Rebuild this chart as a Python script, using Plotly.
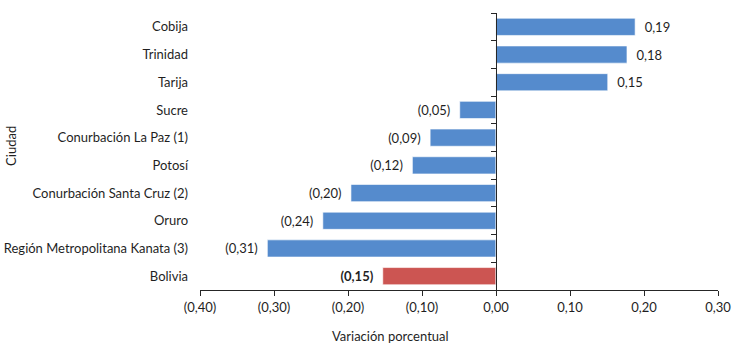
import plotly.graph_objects as go

ciudades = ["Cobija", "Trinidad", "Tarija", "Sucre", "Conurbación La Paz (1)", "Potosí",
            "Conurbación Santa Cruz (2)", "Oruro", "Región Metropolitana Kanata (3)", "Bolivia"]
valores = [0.188, 0.177, 0.151, -0.049, -0.089, -0.113, -0.196, -0.234, -0.309, -0.153]
etiquetas = ["0,19", "0,18", "0,15", "(0,05)", "(0,09)", "(0,12)", "(0,20)", "(0,24)", "(0,31)", "<b>(0,15)</b>"]
colores = ["#558BCD"] * 9 + ["#CC5552"]
x_ticks = [-0.4, -0.3, -0.2, -0.1, 0.0, 0.1, 0.2, 0.3]
x_ticktext = ["(0,40)", "(0,30)", "(0,20)", "(0,10)", "0,00", "0,10", "0,20", "0,30"]
x_range = [-0.4, 0.3]

font = dict(family="Lato, Liberation Sans, sans-serif", size=13, color="#1f1f1f")

# pad labels away from bar ends
textos = [("\u2002" + t) if v >= 0 else (t + "\u2002") for t, v in zip(etiquetas, valores)]

fig = go.Figure()
fig.add_trace(go.Bar(
    x=valores, y=ciudades, orientation="h",
    marker=dict(color=colores, line=dict(color="rgba(255,255,255,0.6)", width=1)),
    text=textos, textposition="outside", textfont=font, cliponaxis=False,
    hoverinfo="skip", yaxis="y",
))
fig.add_trace(go.Bar(
    x=[0] * len(ciudades), y=ciudades, orientation="h",
    marker=dict(color="rgba(0,0,0,0)"), hoverinfo="skip", yaxis="y2", showlegend=False,
))

zero_pos = (0 - x_range[0]) / (x_range[1] - x_range[0])

fig.update_layout(
    width=740, height=350,
    margin=dict(l=200, r=22, t=13, b=60),
    plot_bgcolor="white", paper_bgcolor="white",
    showlegend=False, bargap=0.38, font=font,
    xaxis=dict(range=x_range, tickvals=x_ticks, ticktext=x_ticktext, showgrid=False,
               zeroline=False, showline=True, linecolor="#262626", linewidth=1,
               ticks="outside", ticklen=5, tickcolor="#262626", tickfont=font,
               automargin=False),
    yaxis=dict(autorange="reversed", showgrid=False, zeroline=False, showline=False,
               ticks="", ticklabelstandoff=11, tickfont=font, automargin=False),
    yaxis2=dict(autorange="reversed", overlaying="y", anchor="free", position=zero_pos,
                showticklabels=False, showgrid=False, zeroline=False, showline=True,
                linecolor="#262626", linewidth=1, ticks="outside", tickson="boundaries",
                ticklen=5, tickcolor="#262626", automargin=False),
    annotations=[
        dict(text="Variación porcentual", x=0.367, y=-0.165, xref="paper", yref="paper",
             xanchor="center", yanchor="middle", showarrow=False, font=font),
        dict(text="Ciudad", x=-0.365, y=0.52, xref="paper", yref="paper", textangle=-90,
             xanchor="center", yanchor="middle", showarrow=False, font=font),
    ],
)

fig.write_html("out.html")
